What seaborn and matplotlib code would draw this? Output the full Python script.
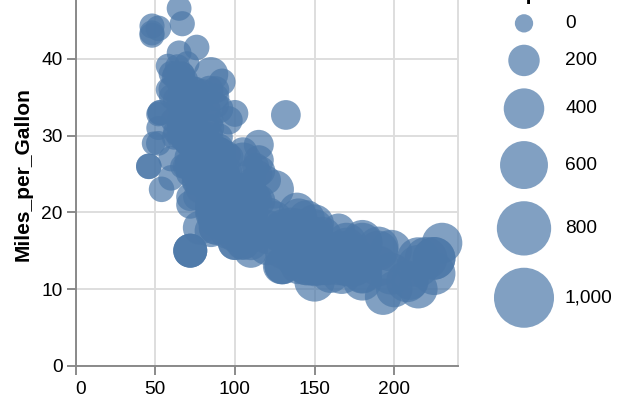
import numpy as np
import pandas as pd
import matplotlib
matplotlib.use("Agg")
import matplotlib.pyplot as plt
import seaborn as sns

# ---- data (cars: Horsepower, Miles_per_Gallon, Displacement) ----
horsepower = [
    130, 165, 150, 150, 140, 198, 220, 215, 225, 190, 170, 160, 150, 225, 95, 95, 97, 85, 88, 46,
    87, 90, 95, 113, 90, 215, 200, 210, 193,
    88, 90, 95, 100, 105, 100, 88, 100, 165, 175, 153, 150, 180, 170, 175, 110, 72, 100, 88, 86,
    90, 70, 76, 65, 69, 60, 70,
    95, 80, 54, 90, 86, 165, 175, 150, 153, 150, 208, 155, 160, 190, 97, 150, 130, 140, 150, 112,
    76, 87, 69, 86, 92, 97, 80, 88,
    175, 150, 145, 137, 150, 198, 150, 158, 150, 215, 225, 175, 105, 100, 100, 88, 95, 46, 150, 167,
    170, 180, 100, 88, 72, 94, 90, 85, 107, 90, 145, 230, 49, 75, 91, 112, 150, 110, 122, 180,
    95, 100, 72, 67, 80, 65, 75, 100, 110, 105, 140, 150, 150, 140, 150, 83, 67, 78, 52, 61,
    75, 75, 75, 97, 93, 67,
    95, 105, 72, 72, 170, 145, 150, 148, 110, 105, 110, 95, 110, 110, 129, 75, 83, 100, 78, 96,
    71, 97, 97, 70, 90, 95, 88, 98, 115, 53, 86, 81, 92, 79, 83,
    140, 150, 120, 152, 100, 105, 81, 90, 52, 60, 70, 53, 100, 78, 110, 95, 71, 70, 75, 72,
    102, 150, 88, 108, 120, 180, 145, 130, 150,
    68, 80, 58, 96, 70, 145, 110, 145, 130, 110, 105, 100, 98, 180, 170, 190, 149, 78, 88, 75,
    89, 63, 83, 67, 78, 97, 110, 110,
    48, 66, 52, 70, 60, 110, 140, 139, 105, 95, 85, 88, 100, 90, 105, 85, 110, 120, 145, 165,
    139, 140, 68, 95, 97, 75, 95, 105, 85, 97, 103, 125, 115, 133, 71, 68, 115, 85, 88, 90, 110,
    130, 129, 138, 135, 155, 142, 125, 150, 71, 65, 80, 80, 77, 125, 71, 90, 70, 70, 65, 69,
    90, 115, 115, 90,
    76, 60, 70, 65, 90, 88, 90, 90, 78, 90, 75, 92, 75, 65, 105, 65, 48, 48, 67, 67,
    67, 67, 62, 132, 100, 88,
    72, 84, 84, 92, 110, 84, 58, 64, 60, 67, 65, 62, 68, 63, 65, 65, 74, 75, 75, 100,
    74, 80, 76, 116, 120, 110, 105, 88, 85,
    88, 88, 88, 85, 84, 90, 92, 74, 68, 68, 63, 70, 88, 75, 70, 67, 67, 67, 110, 85,
    92, 112, 96, 84, 90, 86, 52, 84, 79, 82,
]
miles_per_gallon = [
    18, 15, 18, 16, 17, 15, 14, 14, 14, 15, 15, 14, 15, 14, 24, 22, 18, 21, 27, 26,
    25, 24, 25, 26, 21, 10, 10, 11, 9,
    27, 28, 25, 19, 16, 17, 19, 18, 14, 14, 14, 14, 12, 13, 13, 18, 22, 19, 18, 23,
    28, 30, 30, 31, 35, 27, 26,
    24, 25, 23, 20, 21, 13, 14, 15, 14, 17, 11, 13, 12, 13, 19, 15, 13, 13, 14, 18,
    22, 21, 26, 22, 28, 23, 28, 27,
    13, 14, 13, 14, 15, 12, 13, 13, 14, 13, 12, 13, 18, 16, 18, 18, 23, 26, 11, 12,
    13, 12, 18, 20, 21, 22, 18, 19, 21, 26, 15, 16, 29, 24, 20, 19, 15, 24, 20, 11,
    20, 19, 15, 31, 26, 32, 25, 16, 16, 18, 16, 13, 14, 14, 14, 29, 26, 26, 31, 32,
    28, 24, 26, 24, 26, 31,
    19, 18, 15, 15, 16, 15, 16, 14, 17, 16, 15, 18, 21, 20, 13, 29, 23, 20, 23, 24,
    25, 24, 18, 29, 19, 23, 23, 22, 25, 33, 28, 25, 25, 26, 27,
    17.5, 16, 15.5, 14.5, 22, 22, 24, 22.5, 29, 24.5, 29, 33, 20, 18, 18.5, 17.5, 29.5, 32, 28, 26.5,
    20, 13, 19, 19, 16.5, 16.5, 13, 13, 13,
    31.5, 30, 36, 25.5, 33.5, 17.5, 17, 15.5, 15, 17.5, 20.5, 19, 18.5, 16, 15.5, 15.5, 16, 29, 24.5, 26,
    25.5, 30.5, 33.5, 30, 30.5, 22, 21.5, 21.5,
    43.1, 36.1, 32.8, 39.4, 36.1, 19.9, 19.4, 20.2, 19.2, 20.5, 20.2, 25.1, 20.5, 19.4, 20.6, 20.8, 18.6, 18.1, 19.2, 17.7,
    18.1, 17.5, 30, 27.5, 27.2, 30.9, 21.1, 23.2, 23.8, 23.9, 20.3, 17, 21.6, 16.2, 31.5, 29.5, 21.5, 19.8, 22.3, 20.2, 20.6,
    17, 17.6, 16.5, 18.2, 16.9, 15.5, 19.2, 18.5, 31.9, 34.1, 35.7, 27.4, 25.4, 23, 27.2, 23.9, 34.2, 34.5, 31.8, 37.3,
    28.4, 28.8, 26.8, 33.5,
    41.5, 38.1, 32.1, 37.2, 28, 26.4, 24.3, 19.1, 34.3, 29.8, 31.3, 37, 32.2, 46.6, 27.9, 40.8, 44.3, 43.4, 36.4, 30,
    44.6, 33.8, 29.8, 32.7, 23.7, 35,
    32.4, 27.2, 26.6, 25.8, 23.5, 30, 39.1, 39, 35.1, 32.3, 37, 37.7, 34.1, 34.7, 34.4, 29.9, 33, 33.7, 32.4, 32.9,
    31.6, 28.1, 30.7, 25.4, 24.2, 22.4, 26.6, 20.2, 17.6,
    28, 27, 34, 31, 29, 27, 24, 36, 37, 31, 38, 36, 36, 36, 34, 38, 32, 38, 25, 38,
    26, 22, 32, 36, 27, 27, 44, 32, 28, 31,
]
displacement = [
    307, 350, 318, 304, 302, 429, 454, 440, 455, 390, 383, 340, 400, 455, 113, 198, 199, 200, 97, 97,
    110, 107, 104, 121, 199, 360, 307, 318, 304,
    97, 140, 113, 232, 225, 250, 250, 232, 350, 400, 351, 318, 383, 400, 400, 258, 140, 250, 250, 122,
    116, 79, 88, 71, 72, 97, 91,
    113, 97.5, 97, 140, 122, 350, 400, 318, 351, 304, 429, 350, 350, 400, 70, 304, 307, 302, 318, 121,
    121, 120, 96, 122, 97, 120, 98, 97,
    350, 304, 350, 302, 318, 429, 400, 351, 318, 440, 455, 360, 225, 250, 232, 250, 198, 97, 400, 400,
    360, 350, 232, 97, 140, 108, 70, 122, 155, 98, 350, 400, 68, 116, 114, 121, 318, 121, 156, 350,
    198, 232, 250, 79, 122, 71, 140, 250, 258, 225, 302, 350, 318, 302, 304, 98, 79, 97, 76, 83,
    90, 90, 116, 120, 108, 79,
    225, 250, 250, 250, 400, 350, 318, 351, 231, 250, 258, 225, 231, 262, 302, 97, 140, 232, 140, 134,
    90, 119, 171, 90, 232, 115, 120, 121, 121, 91, 107, 116, 140, 98, 101,
    305, 318, 304, 351, 225, 250, 200, 232, 85, 98, 90, 91, 225, 250, 250, 258, 97, 85, 97, 140,
    130, 318, 120, 156, 168, 350, 350, 302, 318,
    98, 111, 79, 122, 85, 305, 260, 318, 302, 250, 231, 225, 250, 400, 350, 400, 351, 97, 151, 97,
    140, 98, 98, 97, 97, 146, 121, 80,
    90, 98, 78, 85, 91, 260, 318, 302, 231, 200, 200, 140, 225, 232, 231, 200, 225, 258, 305, 231,
    302, 318, 98, 134, 119, 105, 134, 156, 151, 119, 131, 163, 121, 163, 89, 98, 231, 200, 140, 232, 225,
    305, 302, 351, 318, 350, 351, 267, 360, 89, 86, 98, 121, 183, 350, 141, 260, 105, 105, 85, 91,
    151, 173, 173, 151,
    98, 89, 98, 86, 151, 140, 151, 225, 97, 134, 120, 119, 108, 86, 156, 85, 90, 90, 121, 146,
    91, 97, 89, 168, 70, 122,
    107, 135, 151, 156, 173, 135, 79, 86, 81, 97, 85, 89, 91, 105, 98, 98, 105, 107, 108, 119,
    120, 141, 145, 168, 146, 231, 350, 200, 225,
    112, 112, 112, 112, 135, 151, 140, 105, 91, 91, 105, 98, 120, 107, 108, 91, 91, 91, 181, 262,
    156, 232, 144, 135, 151, 140, 97, 135, 120, 119,
]

x_ticks = [0, 50, 100, 150, 200]
y_ticks = [0, 10, 20, 30, 40, 50]
legend_values = [0, 200, 400, 600, 800, 1000]
legend_labels = ["0", "200", "400", "600", "800", "1,000"]

sns.set_theme(style="white")
plt.rcParams["font.family"] = ["Liberation Sans", "DejaVu Sans"]

df = pd.DataFrame({
    "Horsepower": horsepower,
    "Miles_per_Gallon": miles_per_gallon,
    "Displacement": displacement,
})

W, H = 640, 400
PX = 72 / 100.0  # points per pixel
SCALE = 1.915

fig = plt.figure(figsize=(6.4, 4.0), dpi=100)
ax_left, ax_right = 75.5, 458.0
ax_bottom, ax_top = 365.7, -17.7
ax = fig.add_axes([ax_left / W, 1 - ax_bottom / H,
                   (ax_right - ax_left) / W, (ax_bottom - ax_top) / H])

BLUE = "#4c78a8"
S_MIN, S_MAX = 173.7, 1868.7

sns.scatterplot(data=df, x="Horsepower", y="Miles_per_Gallon", size="Displacement",
                sizes=(S_MIN, S_MAX), size_norm=(0, 1000), color=BLUE, alpha=0.7,
                linewidth=0, legend=False, ax=ax, clip_on=False, zorder=3)

ax.set_xlim(0, 240)
ax.set_ylim(0, 50)
ax.set_xticks(x_ticks)
ax.set_yticks(y_ticks)
ax.set_axisbelow(True)
ax.grid(True, color="#dddddd", linewidth=SCALE * PX)
for side in ["left", "bottom"]:
    ax.spines[side].set_color("#888888")
    ax.spines[side].set_linewidth(SCALE * PX)
    ax.spines[side].set_zorder(4)
for side in ["top", "right"]:
    ax.spines[side].set_color("#dddddd")
    ax.spines[side].set_linewidth(SCALE * PX)
ax.tick_params(axis="both", length=9 * PX, width=SCALE * PX, color="#888888",
               labelsize=10 * SCALE * PX, labelcolor="black",
               bottom=True, left=True)
ax.tick_params(axis="x", pad=6 * PX)
ax.tick_params(axis="y", pad=4 * PX)

# flush the first x label to the left like the reference
ax.xaxis.get_major_ticks()[0].label1.set_horizontalalignment("left")

# x title sits below the cropped bottom edge, as in the reference
ax.set_xlabel("Horsepower", fontsize=11 * SCALE * PX, fontweight="bold", labelpad=22)
ax.set_ylabel("Miles_per_Gallon", fontsize=11 * SCALE * PX, fontweight="bold", color="black")
ax.yaxis.set_label_coords((23.5 - ax_left) / (ax_right - ax_left), 0.5)
ax.yaxis.label.set_va("center")

# ---- size legend ----
lax = fig.add_axes([0, 0, 1, 1], zorder=5)
lax.set_xlim(0, W)
lax.set_ylim(H, 0)
lax.axis("off")

leg_sizes = [S_MIN + (S_MAX - S_MIN) * v / 1000.0 for v in legend_values]
leg_diam = [np.sqrt(s) / PX for s in leg_sizes]
centers = []
gap = 12.2
for i, d in enumerate(leg_diam):
    if i == 0:
        c = 14.2 + d / 2
    else:
        c = centers[-1] + (leg_diam[i - 1] + d) / 2 + gap
    centers.append(c)

sym_x = 524
lax.scatter([sym_x] * len(centers), centers, s=leg_sizes, color=BLUE, alpha=0.7,
            linewidth=0, clip_on=False)
for c, lab in zip(centers, legend_labels):
    lax.text(565, c, lab, fontsize=10 * SCALE * PX, va="center", ha="left", color="black")
lax.text(494, 0, "Displacement", fontsize=11 * SCALE * PX, fontweight="bold",
         va="baseline", ha="left", color="black")

fig.savefig("out.png", dpi=100)
